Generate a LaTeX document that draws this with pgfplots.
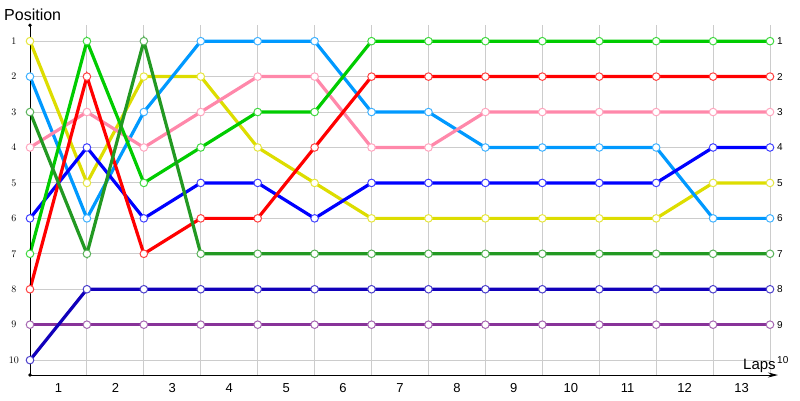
\documentclass[border=0pt]{standalone}
\usepackage{fontspec}
\setmainfont{Liberation Sans}
\usepackage{pgfplots}
\pgfplotsset{compat=1.18}
\usetikzlibrary{arrows.meta}

\definecolor{cyellow}{HTML}{DDDD00}
\definecolor{clblue}{HTML}{0099FF}
\definecolor{cdgreen}{HTML}{229922}
\definecolor{cpink}{HTML}{FF88AA}
\definecolor{cblue}{HTML}{0000FF}
\definecolor{cgreen}{HTML}{00CC00}
\definecolor{cred}{HTML}{FF0000}
\definecolor{cpurple}{HTML}{883399}
\definecolor{cdblue}{HTML}{1100BB}

\pgfplotsset{
  lap/.style={color=#1, line width=3.2pt, mark=*, mark size=3.8pt,
    mark options={fill=white, draw=#1!75!white, line width=1pt}},
}

\begin{document}
\begin{tikzpicture}[x=1pt,y=1pt]
\path[use as bounding box] (0,0) rectangle (800,400);
\begin{axis}[
    at={(30pt,25pt)}, anchor=south west,
    scale only axis, width=740pt, height=349.8pt,
    xmin=0, xmax=13, ymin=0.55, ymax=10.42,
    y dir=reverse,
    axis line style={draw=none},
    clip=false,
    xtick={0.5,1.5,2.5,3.5,4.5,5.5,6.5,7.5,8.5,9.5,10.5,11.5,12.5},
    xticklabels={1,2,3,4,5,6,7,8,9,10,11,12,13},
    minor xtick={0,1,...,13},
    xminorgrids=true,
    ytick={1,2,...,10},
    ymajorgrids=true,
    major tick length=0pt, minor tick length=0pt,
    grid style={draw=black!20, line width=1pt},
    minor grid style={draw=black!20, line width=1pt},
    xticklabel style={font=\fontsize{13}{15}\selectfont, anchor=center, yshift=-13pt},
    yticklabel style={font=\fontsize{10}{12}\selectfont, anchor=center, xshift=-16pt},
]
% purple
\addplot[lap=cpurple] coordinates {(0,9)(1,9)(2,9)(3,9)(4,9)(5,9)(6,9)(7,9)(8,9)(9,9)(10,9)(11,9)(12,9)(13,9)};
% dark blue
\addplot[lap=cdblue] coordinates {(0,10)(1,8)(2,8)(3,8)(4,8)(5,8)(6,8)(7,8)(8,8)(9,8)(10,8)(11,8)(12,8)(13,8)};
% yellow
\addplot[lap=cyellow] coordinates {(0,1)(1,5)(2,2)(3,2)(4,4)(5,5)(6,6)(7,6)(8,6)(9,6)(10,6)(11,6)(12,5)(13,5)};
% light blue
\addplot[lap=clblue] coordinates {(0,2)(1,6)(2,3)(3,1)(4,1)(5,1)(6,3)(7,3)(8,4)(9,4)(10,4)(11,4)(12,6)(13,6)};
% pink
\addplot[lap=cpink] coordinates {(0,4)(1,3)(2,4)(3,3)(4,2)(5,2)(6,4)(7,4)(8,3)(9,3)(10,3)(11,3)(12,3)(13,3)};
% blue
\addplot[lap=cblue] coordinates {(0,6)(1,4)(2,6)(3,5)(4,5)(5,6)(6,5)(7,5)(8,5)(9,5)(10,5)(11,5)(12,4)(13,4)};
% red
\addplot[lap=cred] coordinates {(0,8)(1,2)(2,7)(3,6)(4,6)(5,4)(6,2)(7,2)(8,2)(9,2)(10,2)(11,2)(12,2)(13,2)};
% green
\addplot[lap=cgreen] coordinates {(0,7)(1,1)(2,5)(3,4)(4,3)(5,3)(6,1)(7,1)(8,1)(9,1)(10,1)(11,1)(12,1)(13,1)};
% dark green
\addplot[lap=cdgreen] coordinates {(0,3)(1,7)(2,1)(3,7)(4,7)(5,7)(6,7)(7,7)(8,7)(9,7)(10,7)(11,7)(12,7)(13,7)};

% axes
\draw[line width=1pt] (axis cs:0,0.55) -- (axis cs:0,10.42);
\fill (axis cs:0,0.55) circle (1.8pt);
\fill (axis cs:0,10.42) circle (1.8pt);
\draw[line width=1pt, -{Stealth[length=10pt,width=5pt]}] (axis cs:0,10.42) -- ([xshift=8pt]axis cs:13,10.42);

% final positions
\pgfplotsinvokeforeach{1,...,10}{
  \node[anchor=west, inner sep=0pt, xshift=7pt, font=\fontsize{10}{12}\selectfont] at (axis cs:13,#1) {#1};
}
\end{axis}
\node[anchor=base west, inner sep=0pt, font=\fontsize{16}{18}\selectfont] at (4,379) {Position};
\node[anchor=base west, inner sep=0pt, font=\fontsize{15}{17}\selectfont] at (743,31) {Laps};
\end{tikzpicture}
\end{document}
